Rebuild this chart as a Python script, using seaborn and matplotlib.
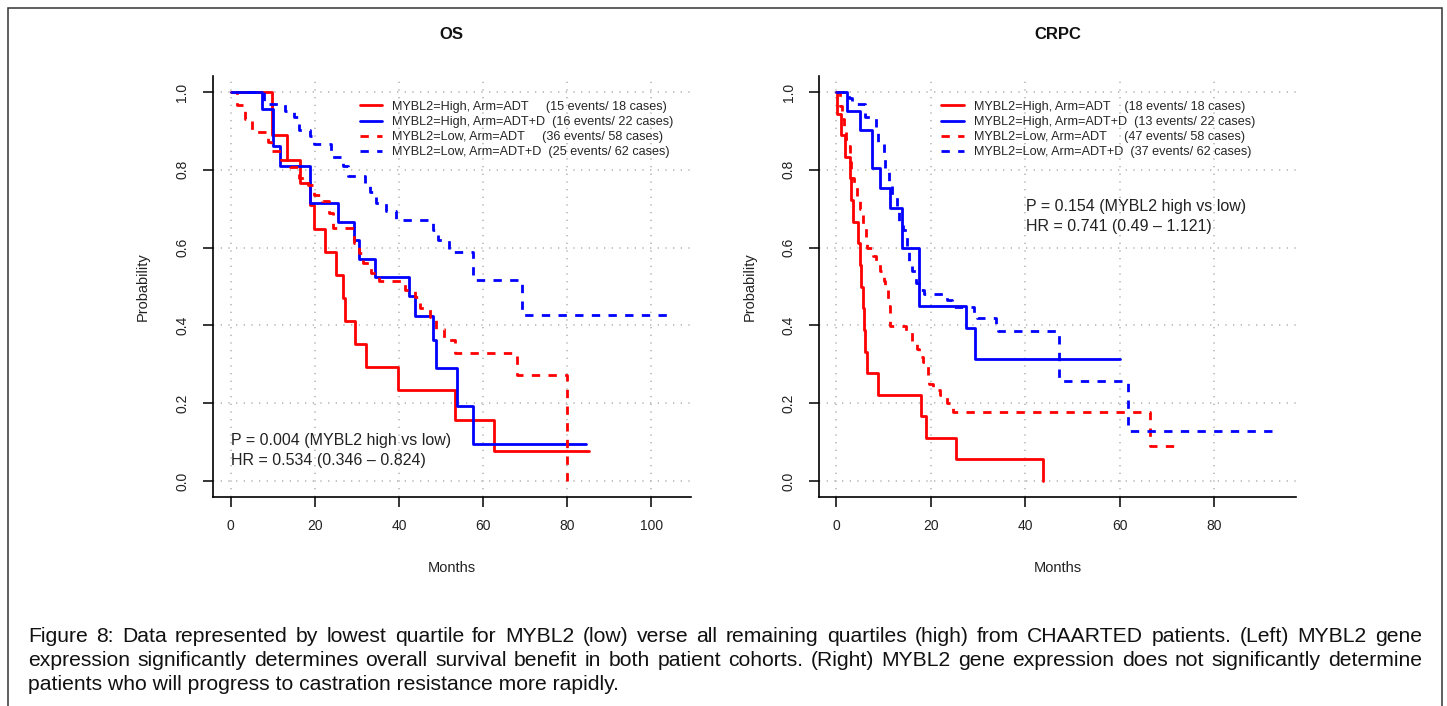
import matplotlib
matplotlib.use("Agg")
import matplotlib.pyplot as plt
import seaborn as sns
from matplotlib.patches import Rectangle

# ---- OS panel: Kaplan-Meier step points (months, prob) ----
os_high_adt_t = [0, 9.9, 13.3, 16.5, 18.9, 19.8, 22.5, 25.0, 26.6, 27.3, 29.5, 32.2, 39.8, 53.4, 62.6, 85.3]
os_high_adt_s = [1.0, 0.889, 0.825, 0.765, 0.71, 0.647, 0.588, 0.529, 0.47, 0.412, 0.353, 0.294, 0.235, 0.157, 0.078, 0.078]

os_high_adtd_t = [0, 7.4, 10.1, 11.7, 18.9, 25.5, 29.3, 30.5, 34.3, 42.3, 43.8, 48.0, 48.8, 53.9, 57.6, 84.5]
os_high_adtd_s = [1.0, 0.955, 0.86, 0.81, 0.714, 0.667, 0.62, 0.571, 0.525, 0.476, 0.424, 0.362, 0.29, 0.193, 0.096, 0.096]

os_low_adt_t = [0, 1.5, 3.3, 5.0, 8.8, 9.6, 12.0, 14.0, 16.3, 18.5, 19.8, 21.8, 23.3, 24.3, 29.4, 30.5,
                31.5, 33.3, 35.3, 41.5, 43.8, 45.0, 47.4, 48.8, 50.8, 53.3, 68.0, 79.9]
os_low_adt_s = [1.0, 0.966, 0.931, 0.898, 0.872, 0.847, 0.825, 0.808, 0.78, 0.761, 0.735, 0.72, 0.69, 0.65, 0.611, 0.585,
                0.56, 0.534, 0.515, 0.491, 0.474, 0.444, 0.422, 0.392, 0.362, 0.328, 0.272, 0.0]

os_low_adtd_t = [0, 8.0, 12.9, 15.0, 16.3, 18.8, 19.7, 23.8, 26.6, 27.9, 32.0, 33.1, 34.5, 36.9, 39.3,
                 48.2, 49.2, 52.0, 57.7, 69.2, 105.3]
os_low_adtd_s = [1.0, 0.968, 0.952, 0.935, 0.903, 0.887, 0.866, 0.834, 0.81, 0.785, 0.765, 0.742, 0.715, 0.695, 0.671,
                 0.645, 0.62, 0.59, 0.516, 0.428, 0.428]

# ---- CRPC panel ---------------------------------------------------------------
crpc_high_adt_t = [0, 0.15, 1.0, 1.8, 2.9, 3.2, 3.6, 4.5, 5.0, 5.3, 5.6, 5.9, 6.1, 6.4, 8.8, 18.0, 19.0, 25.4, 43.8]
crpc_high_adt_s = [1.0, 0.944, 0.889, 0.833, 0.778, 0.722, 0.667, 0.611, 0.556, 0.5, 0.444, 0.389, 0.333, 0.278,
                   0.222, 0.167, 0.111, 0.056, 0.0]

crpc_high_adtd_t = [0, 2.3, 5.0, 7.5, 9.3, 11.4, 13.8, 17.6, 27.4, 29.4, 60.0]
crpc_high_adtd_s = [1.0, 0.95, 0.902, 0.804, 0.752, 0.701, 0.6, 0.45, 0.394, 0.315, 0.315]

crpc_low_adt_t = [0, 0.8, 1.2, 1.7, 2.0, 2.4, 2.8, 3.2, 3.8, 4.4, 5.0, 5.7, 6.2, 6.6, 7.8, 8.3, 9.3, 10.0, 10.4,
                  11.0, 11.4, 14.8, 16.0, 17.0, 17.6, 18.4, 19.3, 19.6, 20.5, 22.0, 23.5, 24.8, 66.3, 72.7]
crpc_low_adt_s = [1.0, 0.965, 0.93, 0.91, 0.88, 0.86, 0.82, 0.78, 0.76, 0.72, 0.70, 0.66, 0.62, 0.598, 0.578, 0.56,
                  0.54, 0.515, 0.5, 0.45, 0.398, 0.385, 0.36, 0.34, 0.32, 0.307, 0.27, 0.25, 0.235, 0.22, 0.2,
                  0.178, 0.09, 0.09]

crpc_low_adtd_t = [0, 2.6, 3.3, 6.0, 8.3, 8.8, 10.0, 10.4, 11.1, 11.7, 12.8, 13.2, 14.2, 15.0, 15.4, 16.0, 16.9,
                   17.4, 18.6, 23.5, 24.5, 29.2, 29.7, 33.8, 34.3, 47.2, 61.8, 93.8]
crpc_low_adtd_s = [1.0, 0.984, 0.968, 0.935, 0.90, 0.87, 0.84, 0.80, 0.77, 0.73, 0.70, 0.66, 0.645, 0.60, 0.565,
                   0.54, 0.51, 0.49, 0.482, 0.465, 0.448, 0.43, 0.418, 0.40, 0.385, 0.257, 0.128, 0.128]

os_labels = ["MYBL2=High, Arm=ADT     (15 events/ 18 cases)",
             "MYBL2=High, Arm=ADT+D  (16 events/ 22 cases)",
             "MYBL2=Low, Arm=ADT     (36 events/ 58 cases)",
             "MYBL2=Low, Arm=ADT+D  (25 events/ 62 cases)"]
crpc_labels = ["MYBL2=High, Arm=ADT    (18 events/ 18 cases)",
               "MYBL2=High, Arm=ADT+D  (13 events/ 22 cases)",
               "MYBL2=Low, Arm=ADT     (47 events/ 58 cases)",
               "MYBL2=Low, Arm=ADT+D  (37 events/ 62 cases)"]

os_stats = ["P = 0.004 (MYBL2 high vs low)", "HR = 0.534 (0.346 \u2013 0.824)"]
crpc_stats = ["P = 0.154 (MYBL2 high vs low)", "HR = 0.741 (0.49 \u2013 1.121)"]

caption = [
    "Figure 8: Data represented by lowest quartile for MYBL2 (low) verse all remaining quartiles (high) from CHAARTED patients. (Left) MYBL2 gene",
    "expression significantly determines overall survival benefit in both patient cohorts. (Right) MYBL2 gene expression does not significantly determine",
    "patients who will progress to castration resistance more rapidly.",
]

sns.set_theme(style="white")
plt.rcParams["font.family"] = ["Liberation Sans", "DejaVu Sans"]

W, H = 1447, 706
fig = plt.figure(figsize=(W / 100, H / 100), dpi=100)
fig.patch.set_facecolor("white")
ax1 = fig.add_axes([0.1470, 0.2965, 0.3305, 0.5953])
ax2 = fig.add_axes([0.5662, 0.2965, 0.3295, 0.5953])

styles = [("#ff0000", "-"), ("#0000ff", "-"), ("#ff0000", (0, (3, 3))), ("#0000ff", (0, (3, 3)))]


def draw_panel(ax, curves, labels, title, xticks, xlim, stats, stats_xy, leg_xy):
    ax.grid(True, color="#b8b8b8", linestyle=(0, (0.8, 3.8)), lw=1.2)
    ax.set_axisbelow(True)
    handles = []
    for (t, s), (col, ls), lab in zip(curves, styles, labels):
        sns.lineplot(x=t, y=s, ax=ax, color=col, lw=2, linestyle=ls, drawstyle="steps-post",
                     estimator=None, sort=False, label=lab, legend=False)
        handles.append(ax.lines[-1])
    ax.set_xlim(*xlim)
    ax.set_ylim(-0.04, 1.04)
    ax.set_xticks(xticks)
    ax.set_xticklabels([str(v) for v in xticks])
    yt = [0.0, 0.2, 0.4, 0.6, 0.8, 1.0]
    ax.set_yticks(yt)
    ax.set_yticklabels([f"{v:.1f}" for v in yt], rotation=90, va="center")
    ax.tick_params(axis="both", which="major", length=7, width=1.1, color="black",
                   labelsize=10, labelcolor="#222222", direction="out", bottom=True, left=True)
    ax.tick_params(axis="y", pad=10)
    ax.tick_params(axis="x", pad=9)
    for side in ("top", "right"):
        ax.spines[side].set_visible(False)
    for side in ("left", "bottom"):
        ax.spines[side].set_color("black")
        ax.spines[side].set_linewidth(1.2)
    ax.set_xlabel("")
    ax.set_ylabel("")
    ax.text(0.5, 1.0985, title, transform=ax.transAxes, ha="center", va="center",
            fontsize=12, fontweight="bold", color="#111111")
    ax.text(-0.1457, 0.5, "Probability", transform=ax.transAxes, rotation=90,
            ha="center", va="center", fontsize=10.5, color="#222222")
    ax.text(0.5, -0.1696, "Months", transform=ax.transAxes, ha="center", va="center",
            fontsize=10.5, color="#222222")
    sx, sy = stats_xy
    ax.text(sx, sy, stats[0], ha="left", va="center", fontsize=11.5, color="#222222")
    ax.text(sx, sy - 0.051, stats[1], ha="left", va="center", fontsize=11.5, color="#222222")
    ax.legend(handles=handles, labels=labels, loc="upper left", bbox_to_anchor=leg_xy,
              frameon=False, fontsize=9.1, handlelength=1.8, handletextpad=0.8,
              labelspacing=0.25, borderpad=0, borderaxespad=0)


draw_panel(ax1,
           [(os_high_adt_t, os_high_adt_s), (os_high_adtd_t, os_high_adtd_s),
            (os_low_adt_t, os_low_adt_s), (os_low_adtd_t, os_low_adtd_s)],
           os_labels, "OS", [0, 20, 40, 60, 80, 100], (-4.28, 109.46),
           os_stats, (0.0, 0.104), (0.307, 0.942))
draw_panel(ax2,
           [(crpc_high_adt_t, crpc_high_adt_s), (crpc_high_adtd_t, crpc_high_adtd_s),
            (crpc_low_adt_t, crpc_low_adt_s), (crpc_low_adtd_t, crpc_low_adtd_s)],
           crpc_labels, "CRPC", [0, 20, 40, 60, 80], (-3.6, 97.3),
           crpc_stats, (40.1, 0.705), (0.256, 0.942))

# outer frame of the figure box
fig.patches.append(Rectangle((8 / W, -0.05), (1442 - 8) / W, 1 - 8 / H + 0.05,
                             transform=fig.transFigure, fill=False, lw=1.1, ec="#333333"))

# caption, justified like the source document
renderer = fig.canvas.get_renderer()
probe = fig.text(0, 0, caption[2], fontsize=10)
w10 = probe.get_window_extent(renderer).width
probe.remove()
cap_size = 10 * (622 - 28) / w10
x0, x1 = 28, 1422
line_y = [636.5, 660.5, 684.5]
for i, (line, ypix) in enumerate(zip(caption, line_y)):
    yf = 1 - ypix / H
    if i == len(caption) - 1:
        fig.text(x0 / W, yf, line, fontsize=cap_size, va="center", ha="left", color="#111111")
        continue
    words = line.split(" ")
    texts = [fig.text(0, yf, w, fontsize=cap_size, va="center", ha="left", color="#111111") for w in words]
    widths = [t.get_window_extent(renderer).width for t in texts]
    gap = (x1 - x0 - sum(widths)) / (len(words) - 1)
    x = x0
    for t, w in zip(texts, widths):
        t.set_x(x / W)
        x += w + gap

fig.savefig("out.png", dpi=100)
